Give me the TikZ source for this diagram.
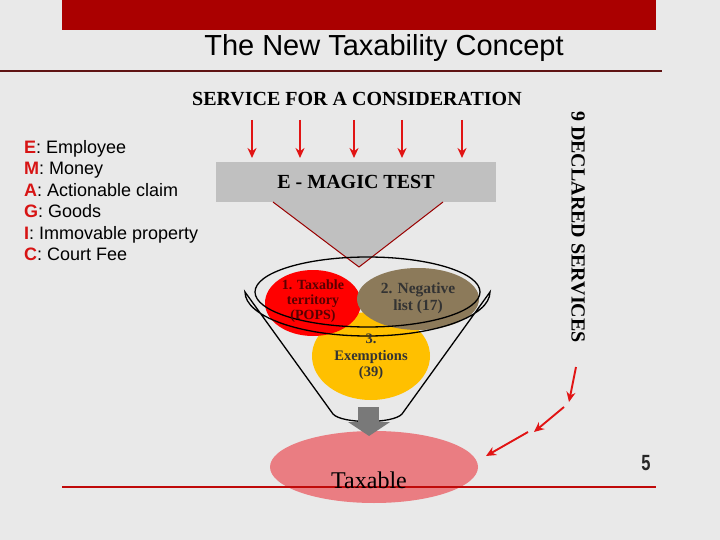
\documentclass[tikz,border=0pt]{standalone}
\usepackage{fontspec}
\setmainfont{Liberation Serif}
\setsansfont{Liberation Sans}
\usetikzlibrary{arrows.meta,shapes.geometric}

\definecolor{pagebg}{RGB}{233,233,233}
\definecolor{slidebar}{RGB}{170,0,0}
\definecolor{ruleline}{RGB}{95,20,20}
\definecolor{bottomrule}{RGB}{192,10,10}
\definecolor{boxgray}{RGB}{192,192,192}
\definecolor{negbrown}{RGB}{140,122,90}
\definecolor{exyellow}{RGB}{255,192,0}
\definecolor{taxpink}{RGB}{234,125,130}
\definecolor{letterred}{RGB}{215,20,20}
\definecolor{arrowred}{RGB}{225,20,20}

\tikzset{
  downarrow/.style={draw=arrowred,line width=1.9pt,-{Stealth[length=10pt,width=9pt]}},
  heading/.style={font=\bfseries\fontsize{20}{22}\selectfont,inner sep=0pt},
  circletext/.style={align=center,inner sep=0pt},
  funnel/.style={draw=black,line width=1.3pt}
}
\newcommand{\keyletter}[1]{\textcolor{letterred}{\textbf{#1}}}

\begin{document}
\begin{tikzpicture}[x=1pt,y=-1pt]
  \fill[pagebg] (0,0) rectangle (720,540);
  \useasboundingbox (0,0) rectangle (720,540);
  % header
  \fill[slidebar] (62,0) rectangle (656,30);
  \node[font=\sffamily\fontsize{29}{34}\selectfont,anchor=base,inner sep=0pt] (title) at (384,56) {The New Taxability Concept};
  \draw[ruleline,line width=2pt] (0,71) -- (662,71);
  \node[heading] (service) at (357,99) {SERVICE FOR A CONSIDERATION};
  \foreach \x [count=\i] in {252,300,354,402,462}{
    \coordinate (in\i) at (\x,120);
    \coordinate (out\i) at (\x,158);
    \draw[downarrow] (in\i) -- (out\i);
  }
  % the test box and its funnel
  \node[fill=boxgray,minimum width=280pt,minimum height=40pt,heading] (magic) at (356,182) {E - MAGIC TEST};
  \fill[boxgray] (273,202) -- (443,202) -- (359,267) -- cycle;
  \draw[red!60!black,line width=1pt] (273,202) -- (359,267) -- (443,202);
  \fill[exyellow] (371,356) ellipse [x radius=59,y radius=44];
  \fill[red] (313,303) ellipse [x radius=48,y radius=33];
  \fill[negbrown] (418,299) ellipse [x radius=61,y radius=31];
  \draw[funnel] (367.5,292) ellipse [x radius=112.5,y radius=35];
  \draw[funnel] (245,292) arc [start angle=180,end angle=0,x radius=122.5,y radius=44]
    -- (402,414) .. controls (393,424) and (342,424) .. (333,414) -- cycle;
  \node[circletext,text=red!35!black,font=\bfseries\fontsize{14}{15}\selectfont] (territory) at (313,301) {1. Taxable\\territory\\(POPS)};
  \node[circletext,text=black!80,font=\bfseries\fontsize{15.5}{17}\selectfont] (negative) at (418,298) {2. Negative\\list (17)};
  \node[circletext,text=black!80,font=\bfseries\fontsize{14.5}{16.5}\selectfont] (exempt) at (371,357) {3.\\Exemptions\\(39)};
  % result
  \node[ellipse,fill=taxpink,minimum width=208pt,minimum height=72pt] (taxzone) at (374,467) {};
  \fill[gray!95!black] (358,407) rectangle (379,422);
  \fill[gray!95!black] (348,422) -- (390,422) -- (369,436) -- cycle;
  \draw[bottomrule,line width=1.5pt] (62,487) -- (656,487);
  \node[font=\fontsize{24}{28}\selectfont] (taxable) at (369,480) {Taxable};
  \node[font=\sffamily\bfseries\fontsize{22}{24}\selectfont,xscale=.75,text=black!85] (pagenum) at (646,463) {5};
  % declared services
  \node[heading,rotate=-90] (declared) at (578,227) {9 DECLARED SERVICES};
  \coordinate (d1) at (576,367);
  \coordinate (d2) at (569,402);
  \coordinate (d3) at (564,407);
  \coordinate (d4) at (534,432);
  \coordinate (d5) at (528,432);
  \coordinate (d6) at (486,456);
  \draw[downarrow] (d1) -- (d2);
  \draw[downarrow] (d3) -- (d4);
  \draw[downarrow] (d5) -- (d6);
  % key
  \node[font=\sffamily\fontsize{18}{21.4}\selectfont,align=left,anchor=west,inner sep=0pt] (key) at (24,200.5)
    {\keyletter{E}: Employee\\\keyletter{M}: Money\\\keyletter{A}: Actionable claim\\\keyletter{G}: Goods\\\keyletter{I}: Immovable property\\\keyletter{C}: Court Fee};
\end{tikzpicture}
\end{document}
